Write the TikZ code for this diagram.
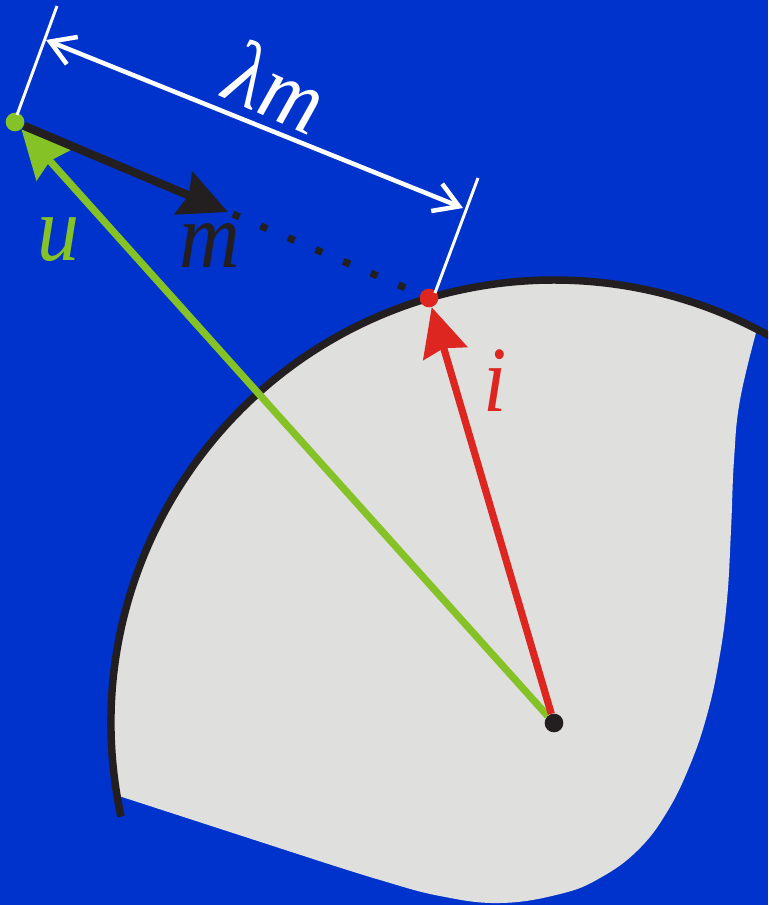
\documentclass[tikz,border=0pt]{standalone}
\usepackage{fontspec}
\setmainfont{Liberation Serif}
\usetikzlibrary{arrows.meta}
\definecolor{bgblue}{RGB}{0,51,204}
\definecolor{sheetgray}{RGB}{223,223,221}
\definecolor{vecblack}{RGB}{35,31,32}
\definecolor{vecgreen}{RGB}{132,194,37}
\definecolor{vecred}{RGB}{220,38,31}
\begin{document}
\begin{tikzpicture}[x=0.75pt, y=-0.75pt,
    dot/.style={circle, inner sep=0pt, minimum size=14pt},
    vec/.style={line width=5.4pt, -{Stealth[length=36pt, width=34pt, inset=4pt]}},
    barb/.tip={Straight Barb[length=18pt, width=22pt]},
    lbl/.style={font=\fontsize{70}{72}\selectfont\itshape, xscale=0.9, inner sep=0pt}]
    % Background
    \fill[bgblue] (0,0) rectangle (768,905);
    \useasboundingbox (0,0) rectangle (768,905);
    \clip (0,0) rectangle (768,905);

    % Sheet
    \coordinate (O) at (554,723);
    \fill[sheetgray] (O) ++(-189.4:443) arc[start angle=-189.4, end angle=-62.7, radius=443]
        -- plot[smooth, tension=0.7] coordinates {(757,329) (740,400) (734,460) (731,530) (727,600)
        (719,660) (707,715) (690,765) (667,812) (638,850) (600,878) (560,894) (500,903)
        (440,896) (380,880) (310,858)} -- cycle;
    \draw[vecblack, line width=5.6pt] (O) ++(-192.2:443) arc[start angle=-192.2, end angle=-50, radius=443];

    % Points
    \node[dot, fill=vecblack] (o) at (O) {};
    \node[dot, fill=vecgreen] (u) at (15,122) {};
    \node[dot, fill=vecred] (i) at (429,298) {};
    \coordinate (mtip) at (228,212);

    % Vectors
    \draw[vec, vecgreen] (o) -- (u);
    \draw[vec, vecred] (o) -- (i);
    \draw[vec, vecblack, line width=6.2pt] (u) -- (mtip);
    \draw[vecblack, line width=5.4pt, dash pattern=on 5.4pt off 17.1pt, shorten <=4pt] (mtip) -- (i);

    % Dimension
    \coordinate (e1a) at (17,115);
    \coordinate (e1b) at (57,6);
    \coordinate (e2a) at (435,293);
    \coordinate (e2b) at (478,178);
    \coordinate (d1) at (46,40);
    \coordinate (d2) at (463,208);
    \draw[white, line width=2.2pt] (e1a) -- (e1b);
    \draw[white, line width=2.2pt] (e2a) -- (e2b);
    \draw[white, line width=3.4pt, barb-barb] (d1) -- (d2);

    % Labels
    \node[lbl, text=vecgreen] (ulabel) at (58,240) {u};
    \node[lbl, text=vecblack] (mlabel) at (210,246) {m};
    \node[lbl, text=vecred] (ilabel) at (495,381) {i};
    \node[lbl, text=white, rotate=-22] (lmlabel) at (277,86) {λm};
\end{tikzpicture}
\end{document}
